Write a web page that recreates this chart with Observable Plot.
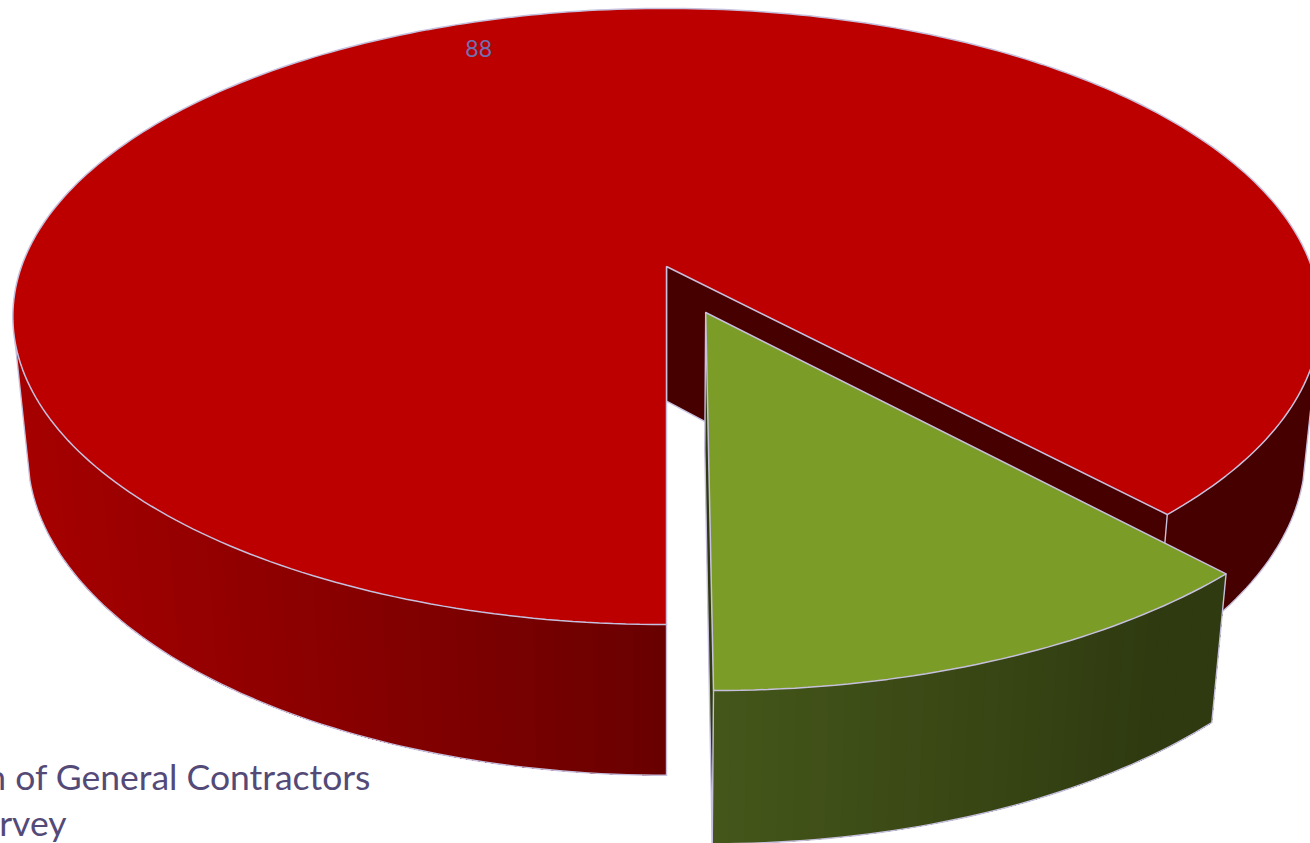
<!DOCTYPE html>
<html>
<head>
<meta charset="utf-8">
<title>Survey pie</title>
<script src="https://cdn.jsdelivr.net/npm/d3@7"></script>
<script src="https://cdn.jsdelivr.net/npm/@observablehq/plot@0.6"></script>
<style>
  html, body { margin: 0; padding: 0; background: #fff; overflow: hidden; }
  svg { display: block; }
</style>
</head>
<body>
<div id="chart"></div>
<script>
// Slice shares, in percent.
const sliceLabels = ["88", "12"];
const sliceValues = [88, 12];

// Colours: top face, cut face, side shading from near the seam outward.
const topColors = ["#bc0000", "#7c9c28"];
const cutColors = ["#470000", "#2f3a10"];
const redSideRamp = ["#a60000", "#680000"];
const greenSideRamp = ["#44561a", "#2f3a10"];
const edgeColor = "#c6c0de";

// Caption fragments along the lower-left border.
const captionLines = ["n of General Contractors", "rvey"];

// Perspective camera for the tilted disc.
const W = 1310, H = 843;
const view = {cx: 666, cy: 266, scaleX: 645, scaleY: 300, tilt: 0.1623, depth: 0.0224, drop: 137.6};
const explode = 0.161;
// Rim angles where the outer wall turns away from the viewer.
const silhouetteLeft = 284, silhouetteRight = 76;

// Maps a disc point (px, py on the plane, z = 0 top, 1 bottom) to the page.
const project = (px, py, z = 0) => {
  const w = 1 - view.tilt * py + view.depth * z;
  return {x: view.cx + view.scaleX * px / w, y: view.cy + (view.scaleY * py + view.drop * z) / w};
};

const total = d3.sum(sliceValues);
const greenSweep = 360 * sliceValues[1] / total;
const rad = (a) => a * Math.PI / 180;

// Angles run from due south toward the east; the small slice starts at 0.
const redStart = greenSweep, redEnd = 360;
const mid = rad(greenSweep / 2);
const off = {x: explode * Math.sin(mid), y: explode * Math.cos(mid)};

const rim = (a, z, o = {x: 0, y: 0}) => project(o.x + Math.sin(rad(a)), o.y + Math.cos(rad(a)), z);
const hub = (z, o = {x: 0, y: 0}) => project(o.x, o.y, z);
const span = (a0, a1, z, o, step = 1) => {
  const n = Math.max(1, Math.ceil(Math.abs(a1 - a0) / step));
  return d3.range(n + 1).map((i) => rim(a0 + (a1 - a0) * i / n, z, o));
};

// A wall is painted as overlapping facets, each reaching to the wall's far end,
// so that neighbouring shades leave no hairline between them.
const wallRows = (id, a0, a1, step, colorAt, o) => {
  const rows = [];
  for (let a = a0; a < a1 - 1e-6; a += step) {
    const outline = [...span(a, a1, 0, o), ...span(a1, a, 1, o)];
    outline.forEach((p) => rows.push({...p, id: `${id}${a}`, color: colorAt(a)}));
  }
  return rows;
};

const redRamp = d3.interpolateRgb(redSideRamp[0], redSideRamp[1]);
const greenRamp = d3.interpolateRgb(greenSideRamp[0], greenSideRamp[1]);
const seamX = view.cx, farLeftX = rim(silhouetteLeft, 1).x;

const redRight = wallRows("rr", redStart, silhouetteRight, 60, () => cutColors[0]);
const redLeft = wallRows("rl", silhouetteLeft, redEnd, 1.5, (a) =>
  redRamp(Math.max(0, Math.min(1, (rim(a, 1).x - farLeftX) / (seamX - farLeftX)))));
const greenWall = wallRows("g", 0, greenSweep, 1.2, (a) => greenRamp(Math.min(1, a / (greenSweep * 0.8))), off);

const redCut = [hub(0), rim(redStart, 0), rim(redStart, 1), hub(1)];
const redTop = [hub(0), ...span(redStart, redEnd, 0)];
const greenTop = [hub(0, off), ...span(0, greenSweep, 0, off)];
const greenCut = [hub(0, off), rim(0, 0, off), rim(0, 1, off), hub(1, off)];

// Thin outlines along the silhouette and the seams.
const edgeRows = (groups) => Object.entries(groups).flatMap(([id, pts]) => pts.map((p) => ({...p, id})));
const redEdges = edgeRows({
  right: [rim(silhouetteRight, 0), ...span(silhouetteRight, redStart, 1)],
  left: [rim(silhouetteLeft, 0), ...span(silhouetteLeft, 360, 1)],
  seam: [rim(360, 0), rim(360, 1)],
  hub: [hub(0), hub(1), rim(redStart, 1)],
  corner: [rim(redStart, 0), rim(redStart, 1)]
});
const greenEdges = edgeRows({
  bottom: span(0, greenSweep, 1, off),
  right: [rim(greenSweep, 0, off), rim(greenSweep, 1, off)],
  left: [rim(0, 0, off), rim(0, 1, off)],
  hub: [hub(0, off), hub(1, off), rim(0, 1, off)]
});

const facets = (rows) => Plot.line(rows, {
  x: "x", y: "y", z: "id", fill: "color", curve: "linear-closed"
});
const outline = (rows) => Plot.line(rows, {x: "x", y: "y", z: "id", stroke: edgeColor, strokeWidth: 1.4});
const face = (rows, fill) => Plot.line(rows, {
  x: "x", y: "y", fill, stroke: edgeColor, strokeWidth: 1.5, strokeLinejoin: "miter", curve: "linear-closed"
});

const valueSpot = project(-0.33, -0.82);

const chart = Plot.plot({
  width: W,
  height: H,
  margin: 0,
  style: {background: "#ffffff"},
  x: {domain: [0, W], range: [0, W], axis: null},
  y: {domain: [0, H], range: [0, H], axis: null},
  color: {type: "identity"},
  marks: [
    facets(redRight),
    facets(redLeft),
    Plot.line(redCut, {x: "x", y: "y", fill: cutColors[0], curve: "linear-closed"}),
    outline(redEdges),
    face(redTop, topColors[0]),
    facets(greenWall),
    Plot.line(greenCut, {x: "x", y: "y", fill: cutColors[1], curve: "linear-closed"}),
    outline(greenEdges),
    face(greenTop, topColors[1]),
    Plot.text([sliceLabels[0]], {
      x: () => valueSpot.x, y: () => valueSpot.y, text: (d) => d,
      fill: "#6f6fb2", fontSize: 23, fontFamily: "Lato", textAnchor: "middle"
    }),
    Plot.text([captionLines[0]], {
      x: () => 370, y: () => 778, text: (d) => d,
      fill: "#544a78", fontSize: 35.5, fontFamily: "Lato", textAnchor: "end"
    }),
    Plot.text([captionLines[1]], {
      x: () => 66, y: () => 824, text: (d) => d,
      fill: "#544a78", fontSize: 35.5, fontFamily: "Lato", textAnchor: "end"
    })
  ]
});
document.getElementById("chart").append(chart);
</script>
</body>
</html>
